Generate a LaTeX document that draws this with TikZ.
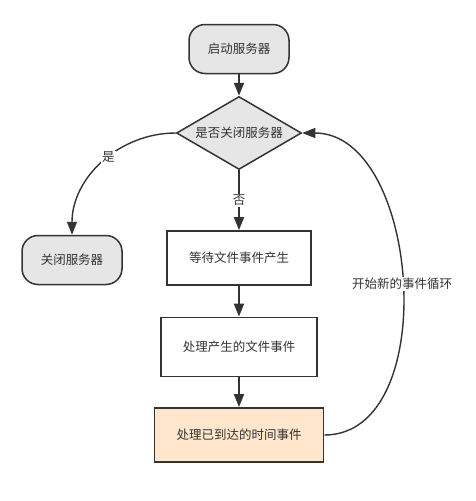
\documentclass[tikz,border=0pt]{standalone}
\usepackage{fontspec}
\setmainfont{Noto Sans CJK SC}
\usetikzlibrary{shapes.geometric,arrows.meta}
\definecolor{edge}{HTML}{333333}
\definecolor{termgray}{HTML}{E6E6E6}
\definecolor{peach}{HTML}{FFE6CC}
\begin{document}
\begin{tikzpicture}[node distance=88pt,
                    >={Triangle[length=13pt,width=10pt]},
                    every node/.style={font=\fontsize{12.5}{15}\selectfont,text=edge},
                    term/.style={draw=edge,fill=termgray,line width=1.5pt,rounded corners=16pt,minimum width=100pt,minimum height=49pt},
                    ask/.style={diamond,draw=edge,fill=termgray,line width=1.5pt,aspect=1.7,inner sep=0pt,minimum width=125pt,minimum height=73pt},
                    stepbox/.style={draw=edge,line width=1.8pt,inner xsep=22pt,minimum height=54pt},
                    tag/.style={fill=white,inner sep=1pt}]
                    \useasboundingbox (0,0) rectangle (476pt,-501pt);
                    \node[term] at (239pt,-49pt) (start) {启动服务器};
                    \node[ask,below of=start,yshift=4pt] (quit) {是否关闭服务器};
                    \node[term,left of=quit,xshift=-79pt,yshift=-127pt] (close) {关闭服务器};
                    \node[stepbox,below of=quit,yshift=-37pt] (wait) {等待文件事件产生};
                    \node[stepbox,below of=wait,yshift=-1pt,minimum height=59pt] (file) {处理产生的文件事件};
                    \node[stepbox,fill=peach,below of=file] (time) {处理已到达的时间事件};
                    \draw[->,draw=edge,line width=2pt] (start) -- (quit);
                    \draw[->,draw=edge,line width=2pt] (quit) -- node[tag] {否} (wait);
                    \draw[->,draw=edge,line width=2pt] (wait) -- (file);
                    \draw[->,draw=edge,line width=2pt] (file) -- (time);
                    \draw[->,draw=edge,line width=1.4pt] (quit.west) to[out=180,in=90] node[tag,pos=0.45] {是} (close);
                    \draw[->,draw=edge,line width=1.4pt] (time.east) to[out=0,in=0] node[tag] {开始新的事件循环} (quit.east);
                \end{tikzpicture}
\end{document}
